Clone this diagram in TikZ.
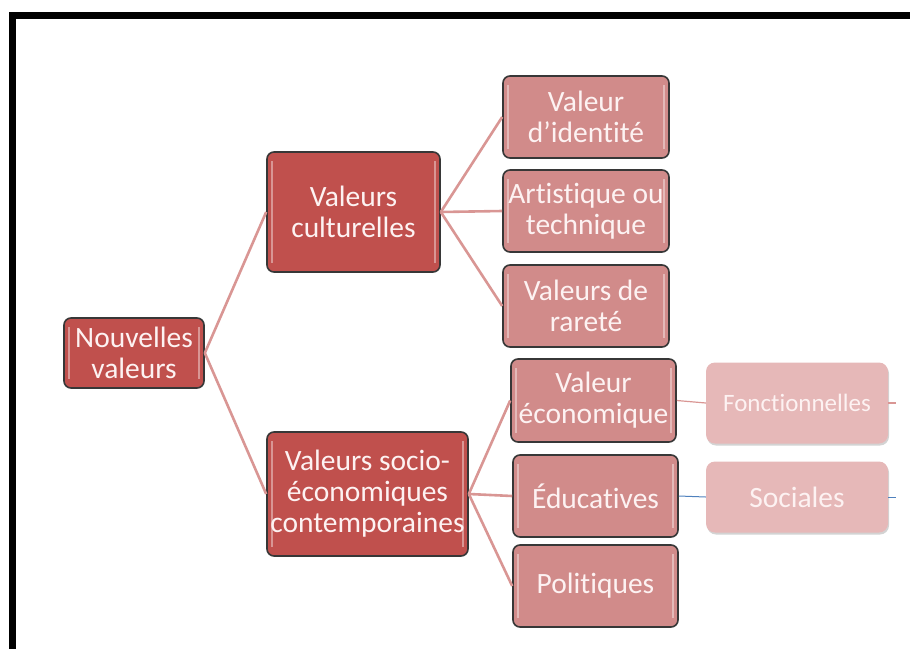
\documentclass[tikz,border=0pt]{standalone}
\usepackage{fontspec}
\setmainfont[Ligatures={NoCommon}]{Carlito}
\usetikzlibrary{shadows}
\definecolor{darkred}{RGB}{192,80,77}
\definecolor{midred}{RGB}{209,139,138}
\definecolor{lightred}{RGB}{230,184,184}
\definecolor{linkred}{RGB}{217,150,148}
\definecolor{linkblue}{RGB}{79,129,189}
\definecolor{edgegray}{RGB}{55,55,55}
\definecolor{textwhite}{RGB}{253,242,242}
\tikzset{
  box/.style={draw=edgegray, line width=1.6pt, rounded corners=7pt, align=center,
    text=textwhite, font=\fontsize{29.5}{31}\selectfont, inner sep=0pt,
    path picture={
      \draw[white, opacity=0.4, line width=2pt]
        ([xshift=5pt,yshift=-9pt]path picture bounding box.north west) --
        ([xshift=5pt,yshift=9pt]path picture bounding box.south west);
      \draw[white, opacity=0.4, line width=2pt]
        ([xshift=-5pt,yshift=-9pt]path picture bounding box.north east) --
        ([xshift=-5pt,yshift=9pt]path picture bounding box.south east);
    }},
  rootbox/.style={box, fill=darkred},
  leafbox/.style={box, fill=midred},
  softbox/.style={rounded corners=9pt, fill=lightred, align=center, text=textwhite,
    drop shadow={shadow xshift=1pt, shadow yshift=-2pt, opacity=0.35},
    inner sep=2pt},
  link/.style={draw=linkred, line width=2.6pt},
  bluelink/.style={draw=linkblue, line width=1pt},
}
\begin{document}
\begin{tikzpicture}[x=1pt,y=-1pt]
\useasboundingbox (0,0) rectangle (910,648);
\begin{scope}
\clip (0,0) rectangle (910,648);
\draw[line width=7pt] (12,660) -- (12,15) -- (920,15);
\end{scope}
% nodes
\node[rootbox, minimum width=140pt, minimum height=70pt] (nv) at (134,353) {Nouvelles\\valeurs};
\node[rootbox, minimum width=173pt, minimum height=120pt] (vc) at (353.5,212) {Valeurs\\culturelles};
\node[rootbox, minimum width=201pt, minimum height=124pt] (vs) at (367.5,494) {Valeurs socio-\\économiques\\contemporaines};
\node[leafbox, minimum width=166pt, minimum height=82pt] (vi) at (586,117) {Valeur\\d’identité};
\node[leafbox, minimum width=166pt, minimum height=82pt] (at) at (586,211) {Artistique ou\\technique};
\node[leafbox, minimum width=166pt, minimum height=82pt] (vr) at (586,306) {Valeurs de\\rareté};
\node[leafbox, minimum width=165pt, minimum height=83pt] (ve) at (593.5,400.5) {Valeur\\économique};
\node[leafbox, minimum width=165pt, minimum height=82pt] (ed) at (595.5,496) {Éducatives};
\node[leafbox, minimum width=165pt, minimum height=82pt] (po) at (595.5,586) {Politiques};
\node[softbox, minimum width=182pt, minimum height=81pt, font=\fontsize{25}{29}\selectfont] (fo) at (797,403) {Fonctionnelles};
\node[softbox, minimum width=182pt, minimum height=71pt, font=\fontsize{29.5}{31}\selectfont] (so) at (797,497) {Sociales};
\coordinate (fe) at (896,403);
\coordinate (se) at (896,497);
% connectors
\path[link] (nv.east) -- (vc.west);
\path[link] (nv.east) -- (vs.west);
\path[link] (vc.east) -- (vi.west);
\path[link] (vc.east) -- (at.west);
\path[link] (vc.east) -- (vr.west);
\path[link] (vs.east) -- (ve.west);
\path[link] (vs.east) -- (ed.west);
\path[link] (vs.east) -- (po.west);
\path[draw=linkred, line width=1.2pt] (ve.east) -- (fo.west);
\path[bluelink] (ed.east) -- (so.west);
\path[draw=linkred, line width=1.2pt] (fo.east) -- (fe);
\path[bluelink] (so.east) -- (se);
\end{tikzpicture}
\end{document}
